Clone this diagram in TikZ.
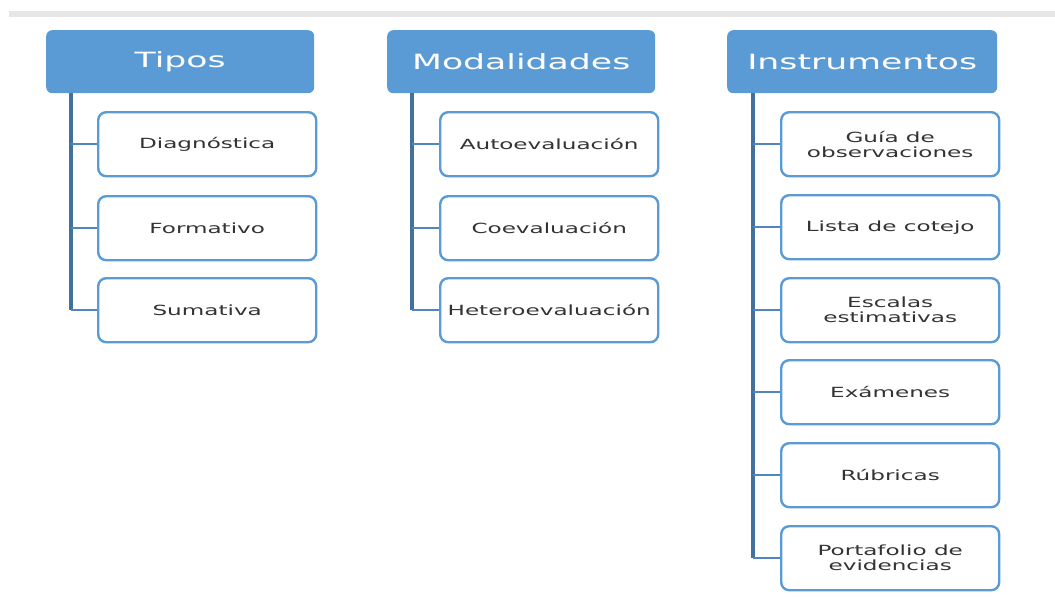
\documentclass[tikz,border=0pt]{standalone}
\usepackage{fontspec}
\setmainfont{DejaVu Sans}
\usepackage{graphicx}
\definecolor{hdr}{HTML}{5B9BD5}
\definecolor{brd}{HTML}{5B9BD5}
\definecolor{vline}{HTML}{41719C}
\definecolor{hline}{HTML}{4F86C0}
\definecolor{txt}{HTML}{333333}
\definecolor{bar}{HTML}{E6E6E6}
\newcommand{\hw}[1]{\scalebox{1.65}[1]{#1}}
\tikzset{
  x=1pt,y=-1pt,
  header/.style={draw=none, fill=hdr, rounded corners=6pt, minimum width=268pt, minimum height=63pt, anchor=north west, inner sep=0pt, text=white, font=\fontsize{21}{23}\selectfont},
  item/.style={draw=brd, line width=2.4pt, fill=white, rounded corners=8pt, minimum width=218pt, minimum height=64pt, anchor=north west, inner sep=0pt, text=txt, align=center, font=\fontsize{14}{15}\selectfont},
  trunk/.style={draw=vline, line width=4.5pt},
  branch/.style={draw=hline, line width=2.5pt},
}
\begin{document}
\begin{tikzpicture}
\useasboundingbox (0,0) rectangle (1055,597);
\fill[bar] (9,11) rectangle (1055,17);
% headers
\node[header] (t) at (46,30) {\hw{Tipos}};
\node[header] (m) at (387,30) {\hw{Modalidades}};
\node[header, minimum width=270pt] (i) at (727,30) {\hw{Instrumentos}};
% Tipos children
\coordinate (ts) at (71,93);
\node[item] (t1) at (97,111) {\hw{Diagnóstica}};
\node[item] (t2) at (97,195) {\hw{Formativo}};
\node[item] (t3) at (97,277) {\hw{Sumativa}};
% Modalidades children
\coordinate (ms) at (412,93);
\node[item] (m1) at (439,111) {\hw{Autoevaluación}};
\node[item] (m2) at (439,195) {\hw{Coevaluación}};
\node[item] (m3) at (439,277) {\hw{Heteroevaluación}};
% Instrumentos children
\coordinate (is) at (753,93);
\node[item] (i1) at (780,111) {\hw{Guía de}\\\hw{observaciones}};
\node[item] (i2) at (780,194) {\hw{Lista de cotejo}};
\node[item] (i3) at (780,277) {\hw{Escalas}\\\hw{estimativas}};
\node[item] (i4) at (780,359) {\hw{Exámenes}};
\node[item] (i5) at (780,442) {\hw{Rúbricas}};
\node[item] (i6) at (780,525) {\hw{Portafolio de}\\\hw{evidencias}};
% trunks
\draw[trunk] (ts) -- (ts |- t3.west);
\draw[trunk] (ms) -- (ms |- m3.west);
\draw[trunk] (is) -- (is |- i6.west);
% branches
\foreach \c in {t1,t2,t3} \draw[branch] (ts |- \c.west) -- (\c.west);
\foreach \c in {m1,m2,m3} \draw[branch] (ms |- \c.west) -- (\c.west);
\foreach \c in {i1,i2,i3,i4,i5,i6} \draw[branch] (is |- \c.west) -- (\c.west);
\end{tikzpicture}
\end{document}
